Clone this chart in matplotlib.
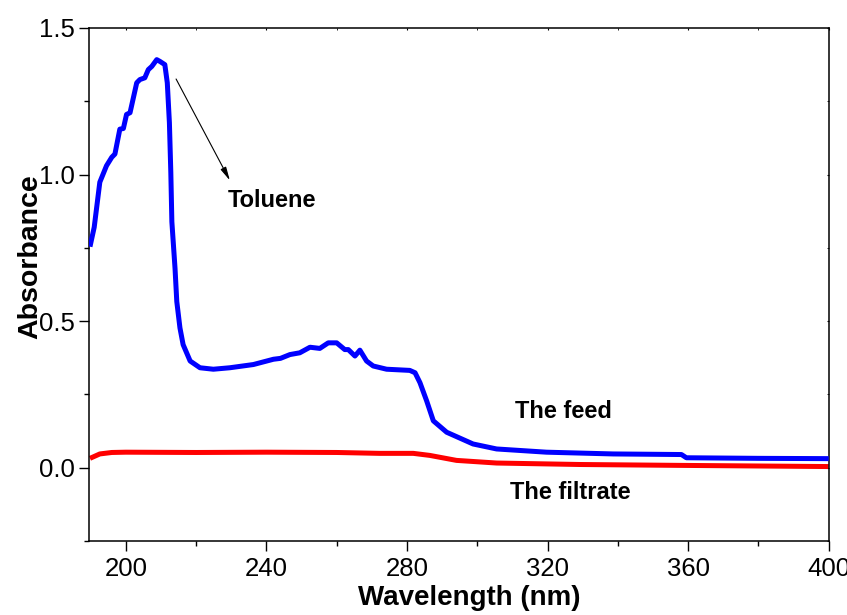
import matplotlib
matplotlib.use("Agg")
import matplotlib.pyplot as plt
from matplotlib.ticker import MultipleLocator

plt.rcParams['font.family'] = ['Liberation Sans', 'DejaVu Sans']

# Feed (toluene) spectrum - blue
feed_wl = [189.8, 191.0, 192.6, 194.5, 196.0, 196.9, 198.3, 199.3, 200.2, 201.2,
           203.1, 204.0, 205.4, 206.4, 207.4, 208.8, 209.7, 211.1, 211.8, 212.4,
           212.8, 213.1, 214.0, 214.5, 215.4, 216.3, 218.3, 221.1, 224.9, 229.6,
           236.3, 242.0, 244.0, 246.7, 249.5, 252.4, 255.2, 257.6, 260.0, 262.3,
           263.3, 265.2, 266.6, 268.5, 270.4, 274.2, 280.8, 282.3, 283.7, 285.6,
           287.5, 291.3, 298.8, 305.5, 319.7, 338.7, 358.1, 359.5, 380.0, 400.0]
feed_abs = [0.754, 0.82, 0.974, 1.03, 1.059, 1.07, 1.155, 1.157, 1.205, 1.211,
            1.313, 1.324, 1.33, 1.358, 1.369, 1.392, 1.386, 1.375, 1.313, 1.177,
            1.008, 0.839, 0.68, 0.567, 0.477, 0.42, 0.364, 0.341, 0.336, 0.341,
            0.352, 0.37, 0.373, 0.386, 0.392, 0.411, 0.407, 0.426, 0.426, 0.403,
            0.403, 0.381, 0.401, 0.364, 0.347, 0.336, 0.332, 0.324, 0.29, 0.228,
            0.16, 0.121, 0.081, 0.064, 0.053, 0.047, 0.045, 0.034, 0.032, 0.031]

# Filtrate spectrum - red
filt_wl = [189.8, 192.6, 196.0, 200.0, 220.0, 240.0, 260.0, 272.2, 281.8, 286.5,
           294.1, 305.5, 329.2, 357.7, 400.0]
filt_abs = [0.032, 0.047, 0.052, 0.053, 0.052, 0.053, 0.052, 0.049, 0.049, 0.042,
            0.025, 0.016, 0.011, 0.008, 0.004]

x_ticks = [200, 240, 280, 320, 360, 400]
y_ticks = [0.0, 0.5, 1.0, 1.5]

fig = plt.figure(figsize=(8.47, 6.15), dpi=100)
ax = fig.add_axes([0.1054, 0.1203, 0.8730, 0.8342])

ax.plot(feed_wl, feed_abs, color='#0000ff', lw=3.6, solid_joinstyle='round',
        solid_capstyle='butt', zorder=3)
ax.plot(filt_wl, filt_abs, color='#ff0000', lw=3.6, solid_joinstyle='round',
        solid_capstyle='butt', zorder=2)

ax.set_xlim(189.6, 400)
ax.set_ylim(-0.25, 1.5)
ax.set_xticks(x_ticks)
ax.set_yticks(y_ticks)
ax.set_yticklabels(['0.0', '0.5', '1.0', '1.5'])
ax.xaxis.set_minor_locator(MultipleLocator(20))
ax.yaxis.set_minor_locator(MultipleLocator(0.25))

ax.tick_params(which='major', direction='out', length=7.2, width=1.0,
               labelsize=18.5, pad=3, top=False, right=False)
ax.tick_params(axis='x', which='major', pad=4)
ax.tick_params(which='minor', direction='out', length=3.6, width=1.0,
               top=False, right=False)
for sp in ax.spines.values():
    sp.set_linewidth(1.1)

# small inward ticks on top/right
axt = ax.secondary_xaxis('top')
axt.set_xticks(x_ticks)
axt.xaxis.set_minor_locator(MultipleLocator(20))
axt.tick_params(which='both', direction='in', length=1.5, labeltop=False)
axt.spines['top'].set_visible(False)
axr = ax.secondary_yaxis('right')
axr.set_yticks(y_ticks)
axr.yaxis.set_minor_locator(MultipleLocator(0.25))
axr.tick_params(which='both', direction='in', length=1.5, labelright=False)
axr.spines['right'].set_visible(False)

fig.text(0.5537, 0.0276, 'Wavelength (nm)', fontsize=20, fontweight='bold',
         ha='center', va='center')
fig.text(0.0354, 0.582, 'Absorbance', fontsize=20.5, fontweight='bold',
         ha='center', va='center', rotation=90)

ax.annotate('', xy=(229.6, 0.98), xytext=(214.3, 1.326),
            arrowprops=dict(arrowstyle='-|>,head_length=0.8,head_width=0.18',
                            color='black', lw=0.8, shrinkA=0, shrinkB=0))
ax.text(241.5, 0.91, 'Toluene', fontsize=17, fontweight='bold',
        ha='center', va='center')
ax.text(324.4, 0.191, 'The feed', fontsize=17, fontweight='bold',
        ha='center', va='center')
ax.text(326.4, -0.084, 'The filtrate', fontsize=17, fontweight='bold',
        ha='center', va='center')

fig.savefig('out.png', dpi=100)
